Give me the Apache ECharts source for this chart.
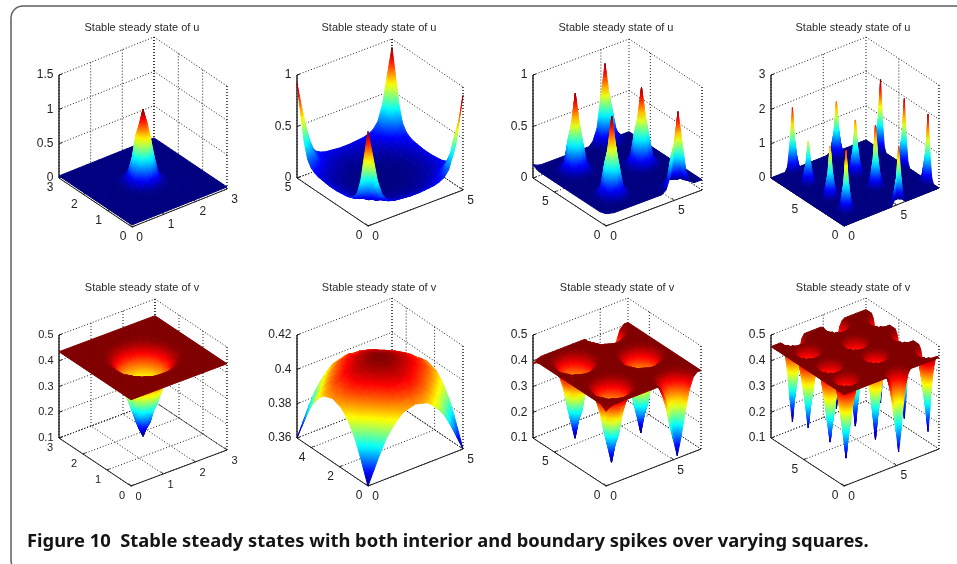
<!DOCTYPE html>
<html><head><meta charset="utf-8">
<style>html,body{margin:0;padding:0;background:#fff}#c{width:957px;height:564px}</style>
<script src="https://cdn.jsdelivr.net/npm/echarts@6/dist/echarts.min.js"></script>
</head><body><div id="c"></div>
<script>
// ---- read-off values: each patch is [i, j, quarter of a symmetric block of heights] ----
const titleU = 'Stable steady state of u';
const titleV = 'Stable steady state of v';
const caption = 'Figure 10  Stable steady states with both interior and boundary spikes over varying squares.';

const u1Patches = [[12,12,[
 [1.08,.86,.46,.17,.06,.036],
 [.86,.70,.38,.14,.055,.035],
 [.46,.38,.20,.09,.045,.033],
 [.17,.14,.09,.05,.035,.031],
 [.06,.055,.045,.035,.032,.03],
 [.036,.035,.033,.031,.03,.03]]]];

const u2Quarter = [
 [.92,.66,.40,.25,.19,.165,.15,.145,.14,.135,.135],
 [.66,.52,.34,.22,.165,.135,.12,.115,.11,.105,.105],
 [.40,.34,.26,.18,.14,.115,.10,.095,.09,.09,.09],
 [.25,.22,.18,.14,.11,.10,.09,.08,.075,.075,.075],
 [.19,.165,.14,.11,.095,.085,.08,.07,.068,.065,.065],
 [.165,.135,.115,.10,.085,.075,.07,.065,.06,.06,.06],
 [.15,.12,.10,.09,.08,.07,.065,.06,.057,.055,.055],
 [.145,.115,.095,.08,.07,.065,.06,.056,.054,.053,.052],
 [.14,.11,.09,.075,.068,.06,.057,.054,.052,.051,.051],
 [.135,.105,.09,.075,.065,.06,.055,.053,.051,.05,.05],
 [.135,.105,.09,.075,.065,.06,.055,.052,.051,.05,.05]];

const u3Patches = [
 [6,6,[[.86,.55,.24,.13],[.55,.40,.19,.12],[.24,.19,.135,.105],[.13,.12,.105,.10]]],
 [6,18,[[.85,.55,.24,.13],[.55,.40,.19,.12],[.24,.19,.135,.105],[.13,.12,.105,.10]]],
 [18,0,[[.85,.54,.24,.13],[.54,.40,.19,.12],[.24,.19,.135,.105],[.13,.12,.105,.10]]],
 [18,12,[[.85,.55,.24,.13],[.55,.40,.19,.12],[.24,.19,.135,.105],[.13,.12,.105,.10]]],
 [18,24,[[.85,.55,.25,.14],[.55,.41,.20,.13],[.25,.20,.14,.11],[.14,.13,.11,.10]]],
 [0,0,[[.12,.11],[.11,.10]]],
 [0,24,[[.13,.11],[.11,.10]]]];

const u4Patches = [
 [7,8,[[1.72,.77,.14],[.77,.41,.09],[.14,.09,.03]]],
 [8,18,[[1.48,.67,.12],[.67,.36,.07],[.12,.07,.02]]],
 [8,30,[[1.20,.54,.10],[.54,.29,.06],[.10,.06,.02]]],
 [9,40,[[1.80,.81,.14],[.81,.43,.09],[.14,.09,.03]]],
 [23,0,[[1.68,.76,.13],[.76,.40,.08],[.13,.08,.03]]],
 [24,14,[[1.77,.80,.14],[.80,.42,.09],[.14,.09,.03]]],
 [24,25,[[1.55,.70,.12],[.70,.37,.08],[.12,.08,.02]]],
 [26,38,[[1.57,.71,.13],[.71,.38,.08],[.13,.08,.02]]],
 [40,6,[[1.94,.87,.16],[.87,.47,.10],[.16,.10,.03]]],
 [40,19,[[1.94,.87,.16],[.87,.47,.10],[.16,.10,.03]]],
 [40,32,[[2.04,.92,.16],[.92,.49,.10],[.16,.10,.03]]]];

const v1Patches = [[12,12,[
 [.13,.165,.225,.27,.325,.375,.41,.43],
 [.165,.185,.235,.28,.33,.38,.412,.43],
 [.225,.235,.26,.30,.345,.39,.418,.431],
 [.27,.28,.30,.335,.375,.405,.425,.433],
 [.325,.33,.345,.375,.40,.42,.431,.435],
 [.375,.38,.39,.405,.42,.43,.435,.435],
 [.41,.412,.418,.425,.431,.435,.435,.435],
 [.43,.43,.431,.433,.435,.435,.435,.435]]]];

const v2Quarter = [
 [.360,.368,.376,.383,.388,.392,.395,.396,.397],
 [.368,.375,.382,.388,.392,.395,.398,.399,.400],
 [.376,.382,.387,.392,.396,.399,.401,.402,.402],
 [.383,.388,.392,.396,.399,.401,.403,.404,.404],
 [.388,.392,.396,.399,.401,.403,.405,.406,.4065],
 [.392,.395,.399,.401,.403,.405,.4064,.4074,.4078],
 [.395,.398,.401,.403,.405,.4064,.4078,.4088,.4092],
 [.396,.399,.402,.404,.406,.4074,.4088,.4097,.4101],
 [.397,.400,.402,.404,.4065,.4078,.4092,.4101,.4105]];

const v3Patches = [
 [6,6,[[.11,.18,.27,.345,.39],[.18,.22,.30,.355,.395],[.27,.30,.345,.38,.40],[.345,.355,.38,.395,.405],[.39,.395,.40,.405,.405]]],
 [6,18,[[.11,.18,.27,.345,.39],[.18,.22,.30,.355,.395],[.27,.30,.345,.38,.40],[.345,.355,.38,.395,.405],[.39,.395,.40,.405,.405]]],
 [18,0,[[.11,.18,.27,.345,.39],[.18,.22,.30,.355,.395],[.27,.30,.345,.38,.40],[.345,.355,.38,.395,.405],[.39,.395,.40,.405,.405]]],
 [18,12,[[.106,.18,.27,.345,.39],[.18,.22,.30,.355,.395],[.27,.30,.345,.38,.40],[.345,.355,.38,.395,.405],[.39,.395,.40,.405,.405]]],
 [18,24,[[.12,.19,.27,.345,.39],[.19,.23,.30,.355,.395],[.27,.30,.345,.38,.40],[.345,.355,.38,.395,.405],[.39,.395,.40,.405,.405]]],
 [0,0,[[.39,.40],[.40,.405]]],
 [0,24,[[.387,.40],[.40,.405]]]];

const v4Patches = [
 [7,8,[[.146,.23,.33,.40,.44],[.23,.28,.35,.41,.445],[.33,.35,.39,.43,.45],[.40,.41,.43,.445,.455],[.44,.445,.45,.455,.455]]],
 [8,18,[[.158,.23,.33,.40,.44],[.23,.28,.35,.41,.445],[.33,.35,.39,.43,.45],[.40,.41,.43,.445,.455],[.44,.445,.45,.455,.455]]],
 [8,30,[[.158,.24,.33,.40,.44],[.24,.29,.35,.41,.445],[.33,.35,.39,.43,.45],[.40,.41,.43,.445,.455],[.44,.445,.45,.455,.455]]],
 [9,40,[[.13,.22,.33,.40,.44],[.22,.28,.35,.41,.445],[.33,.35,.39,.43,.45],[.40,.41,.43,.445,.455],[.44,.445,.45,.455,.455]]],
 [23,0,[[.15,.23,.33,.40,.44],[.23,.28,.35,.41,.445],[.33,.35,.39,.43,.45],[.40,.41,.43,.445,.455],[.44,.445,.45,.455,.455]]],
 [24,14,[[.13,.22,.33,.40,.44],[.22,.28,.35,.41,.445],[.33,.35,.39,.43,.45],[.40,.41,.43,.445,.455],[.44,.445,.45,.455,.455]]],
 [24,25,[[.13,.22,.33,.40,.44],[.22,.28,.35,.41,.445],[.33,.35,.39,.43,.45],[.40,.41,.43,.445,.455],[.44,.445,.45,.455,.455]]],
 [26,38,[[.13,.22,.33,.40,.44],[.22,.28,.35,.41,.445],[.33,.35,.39,.43,.45],[.40,.41,.43,.445,.455],[.44,.445,.45,.455,.455]]],
 [40,6,[[.14,.23,.33,.40,.44],[.23,.28,.35,.41,.445],[.33,.35,.39,.43,.45],[.40,.41,.43,.445,.455],[.44,.445,.45,.455,.455]]],
 [40,19,[[.13,.22,.33,.40,.44],[.22,.28,.35,.41,.445],[.33,.35,.39,.43,.45],[.40,.41,.43,.445,.455],[.44,.445,.45,.455,.455]]],
 [40,32,[[.13,.22,.33,.40,.44],[.22,.28,.35,.41,.445],[.33,.35,.39,.43,.45],[.40,.41,.43,.445,.455],[.44,.445,.45,.455,.455]]]];

const ticks3 = [0,1,2,3], ticks05 = [0,5], ticks024 = [0,2,4];
const zU1 = [0,.5,1,1.5], zU2 = [0,.5,1], zU4 = [0,1,2,3];
const zV = [.1,.2,.3,.4,.5], zV2 = [.36,.38,.40,.42];
const zV2Labels = ['0.36','0.38','0.4','0.42'];

// ---- panel layout ----
const panels = [
 {t:titleU,cx:142,ty:27,O:[132,227],X:[95,-38],Y:[-73,-49],n:25,base:.03,patches:u1Patches,sign:1,xm:3,ym:3,xt:ticks3,yt:ticks3,zt:zU1,fs:12},
 {t:titleU,cx:379,ty:27,O:[368,226],X:[95,-36],Y:[-71,-48],n:21,quarter:u2Quarter,xm:5,ym:5,xt:ticks05,yt:ticks05,zt:zU2,fs:12},
 {t:titleU,cx:616,ty:27,O:[606,226],X:[96,-36],Y:[-73,-48],n:25,base:.10,patches:u3Patches,sign:1,xm:7.07,ym:7.07,xt:ticks05,yt:ticks05,zt:zU2,fs:12},
 {t:titleU,cx:853,ty:27,O:[844,226],X:[95,-38],Y:[-73,-48],n:41,base:0,patches:u4Patches,sign:1,xm:9.09,ym:9.09,xt:ticks05,yt:ticks05,zt:zU4,fs:12},
 {t:titleV,cx:142,ty:287,O:[131,486],X:[96,-36],Y:[-72,-48],n:25,base:.435,patches:v1Patches,sign:-1,xm:3,ym:3,xt:ticks3,yt:ticks3,zt:zV,fs:11},
 {t:titleV,cx:379,ty:287,O:[368,486],X:[95,-37],Y:[-71,-48],n:17,quarter:v2Quarter,xm:5,ym:5,xt:ticks05,yt:ticks024,zt:zV2,zl:zV2Labels,fs:12},
 {t:titleV,cx:617,ty:287,O:[606,486],X:[95,-37],Y:[-73,-48],n:25,base:.405,patches:v3Patches,sign:-1,xm:7.07,ym:7.07,xt:ticks05,yt:ticks05,zt:zV,fs:12},
 {t:titleV,cx:853,ty:287,O:[844,486],X:[95,-37],Y:[-73,-48],n:41,base:.455,patches:v4Patches,sign:-1,xm:9.09,ym:9.09,xt:ticks05,yt:ticks05,zt:zV,fs:12}
];
const ZH = 103, FONT = '"Liberation Sans",Arial,sans-serif';

function buildSurface(p){
  const n=p.n, Z=[];
  for(let j=0;j<n;j++){Z.push([]);for(let i=0;i<n;i++){
    Z[j].push(p.quarter?p.quarter[Math.min(j,n-1-j)][Math.min(i,n-1-i)]:p.base);
  }}
  (p.patches||[]).forEach(([ci,cj,q])=>{
    const m=q.length;
    for(let dj=-m+1;dj<m;dj++)for(let di=-m+1;di<m;di++){
      const i=ci+di,j=cj+dj; if(i<0||j<0||i>=n||j>=n)continue;
      const v=q[Math.abs(dj)][Math.abs(di)];
      Z[j][i]=p.sign>0?Math.max(Z[j][i],v):Math.min(Z[j][i],v);
    }
  });
  let lo=Infinity,hi=-Infinity;
  Z.forEach(r=>r.forEach(v=>{lo=Math.min(lo,v);hi=Math.max(hi,v);}));
  p.Z=Z;p.lo=lo;p.hi=hi;
}
function clamp(v){return v<0?0:v>1?1:v;}
function jet(t){
  const r=clamp(Math.min(4*t-1.5,-4*t+4.5)),g=clamp(Math.min(4*t-.5,-4*t+3.5)),b=clamp(Math.min(4*t+.5,-4*t+2.5));
  return 'rgb('+Math.round(r*255)+','+Math.round(g*255)+','+Math.round(b*255)+')';
}
// a,b in 0..1 and z in 0..1 of the box -> axis units of the panel's hidden grid
function plane(p,a,b,zn){
  return [a*p.X[0]+b*p.Y[0], -(a*p.X[1]+b*p.Y[1])+zn*ZH];
}

const grid=[],xAxis=[],yAxis=[],series=[],title=[];
panels.forEach((p,k)=>{
  buildSurface(p);
  const top=-(p.X[1]+p.Y[1])+ZH;
  grid.push({left:p.O[0]+p.Y[0],top:p.O[1]-top,width:p.X[0]-p.Y[0],height:top,show:false});
  xAxis.push({gridIndex:k,type:'value',min:p.Y[0],max:p.X[0],show:false});
  yAxis.push({gridIndex:k,type:'value',min:0,max:top,show:false});
  title.push({text:p.t,left:p.cx,top:p.ty-5,padding:0,textAlign:'center',
    textStyle:{fontFamily:FONT,fontSize:11,fontWeight:'normal',color:'#2a2a2a'}});
  const z0=p.zt[0],z1=p.zt[p.zt.length-1];
  const zn=z=>(z-z0)/(z1-z0);

  // frame: back walls, floor grid, axes, ticks, tick labels
  series.push({type:'custom',coordinateSystem:'cartesian2d',xAxisIndex:k,yAxisIndex:k,silent:true,animation:false,z:2,
    data:[[0,0]],
    renderItem(params,api){
      const P=(a,b,z)=>api.coord(plane(p,a,b,z));
      const kids=[];
      const line=(A,B,solid,w)=>kids.push({type:'line',shape:{x1:A[0],y1:A[1],x2:B[0],y2:B[1]},
        style:{stroke:solid?'#1c1c1c':'#1e1e1e',lineWidth:w||1,lineDash:solid?null:[1,2]}});
      p.zt.forEach(z=>{const t=zn(z);
        line(P(0,1,t),P(1,1,t));line(P(1,1,t),P(1,0,t));});
      p.xt.forEach(x=>{const a=x/p.xm;line(P(a,1,0),P(a,1,1));line(P(a,0,0),P(a,1,0));});
      p.yt.forEach(y=>{const b=y/p.ym;line(P(1,b,0),P(1,b,1));line(P(0,b,0),P(1,b,0));});
      line(P(1,1,0),P(1,1,1));line(P(1,0,0),P(1,0,1));
      line(P(1,0,0),P(1,1,0));line(P(0,1,0),P(1,1,0));
      line(P(0,1,0),P(0,1,1),true,1.4);
      line(P(0,0,0),P(1,0,0),true);line(P(0,0,0),P(0,1,0),true);
      const text=(s,x,y,al)=>kids.push({type:'text',style:{text:s,x,y,fill:'#222',fontFamily:FONT,fontSize:p.fs,
        font:p.fs+'px '+FONT,textAlign:al,align:al,textVerticalAlign:'middle',verticalAlign:'middle'}});
      p.xt.forEach(x=>{const a=x/p.xm,Q=P(a,0,0);
        line(Q,[Q[0]-2,Q[1]-2.5],true);text(String(x),Q[0]+7.5,Q[1]+10.5,'center');});
      p.yt.forEach(y=>{const b=y/p.ym,Q=P(0,b,0);
        line(Q,[Q[0]+2.5,Q[1]-1.2],true);text(String(y),Q[0]-9,Q[1]+10,'center');});
      p.zt.forEach((z,i)=>{const Q=P(0,1,zn(z));
        line(Q,[Q[0]+3,Q[1]-1],true);
        text(p.zl?p.zl[i]:String(+z.toFixed(2)),Q[0]-5.5,Q[1],'right');});
      return {type:'group',children:kids};
    }});

  // surface: cells from back to front
  const cells=[];
  for(let j=p.n-2;j>=0;j--)for(let i=p.n-2;i>=0;i--)cells.push([i,j]);
  series.push({type:'custom',coordinateSystem:'cartesian2d',xAxisIndex:k,yAxisIndex:k,silent:true,animation:false,
    progressive:0,z:3,clip:false,data:cells,encode:{x:0,y:1},
    renderItem(params,api){
      const i=api.value(0),j=api.value(1),d=p.n-1,Z=p.Z;
      const V=[[i,j],[i+1,j],[i+1,j+1],[i,j+1]].map(([ii,jj])=>{
        const z=Z[jj][ii];
        return {z,pt:api.coord(plane(p,ii/d,jj/d,zn(z)))};
      });
      let a=V[0],b=V[0];
      V.forEach(v=>{if(v.z<a.z)a=v;if(v.z>b.z)b=v;});
      const T=z=>(z-p.lo)/((p.hi-p.lo)||1);
      let fill;
      const far=Math.hypot(a.pt[0]-b.pt[0],a.pt[1]-b.pt[1]);
      if(b.z-a.z<1e-6||far<.5){fill=jet(T((a.z+b.z)/2));}
      else{
        const stops=[];
        for(let s=0;s<=6;s++){stops.push({offset:s/6,color:jet(T(a.z+(b.z-a.z)*s/6))});}
        fill=new echarts.graphic.LinearGradient(a.pt[0],a.pt[1],b.pt[0],b.pt[1],stops,true);
      }
      return {type:'polygon',shape:{points:V.map(v=>v.pt)},style:{fill,stroke:fill,lineWidth:1}};
    }});
});

title.push({text:caption,left:27,top:533,padding:0,textStyle:{fontFamily:'"Noto Sans",sans-serif',fontSize:18.37,fontWeight:'bold',color:'#141414'}});

const chart=echarts.init(document.getElementById('c'),null,{renderer:'canvas',width:957,height:564});
chart.setOption({
  animation:false,backgroundColor:'#fff',title,grid,xAxis,yAxis,series,
  graphic:[{type:'rect',silent:true,z:0,shape:{x:11,y:6,width:1000,height:566,r:12},style:{fill:'none',stroke:'#5f5f5f',lineWidth:1.5}}]
});
</script></body></html>
